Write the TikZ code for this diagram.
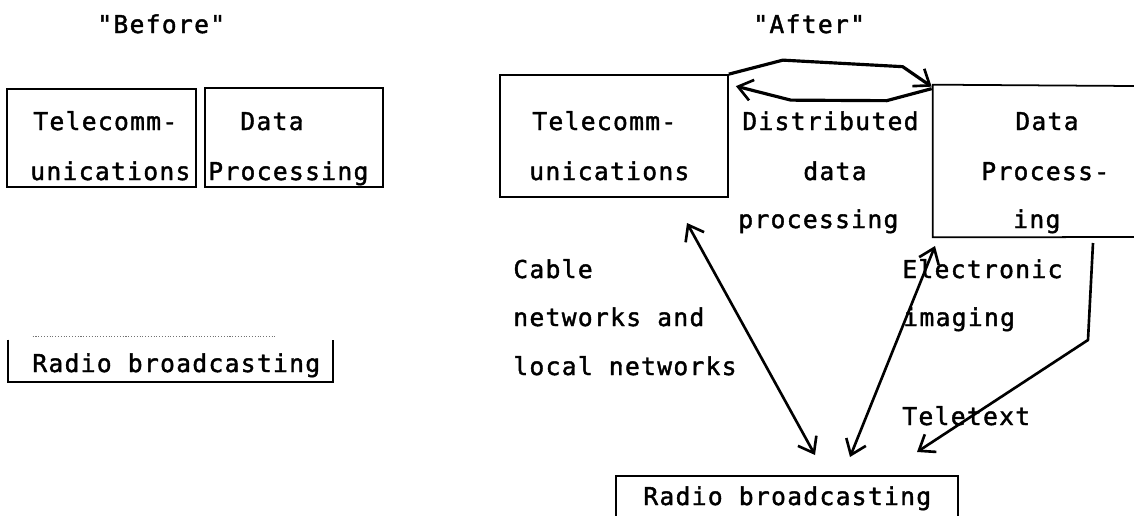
\documentclass[tikz,border=0pt]{standalone}
\usepackage{fontspec}
\newfontfamily\mono[LetterSpace=5.4,FakeBold=1.6]{DejaVu Sans Mono}
\usetikzlibrary{arrows.meta,calc}

\begin{document}
\begin{tikzpicture}[x=0.02cm,y=-0.02cm,
  txt/.style={anchor=base west, inner sep=0pt, font=\mono\fontsize{14}{16}\selectfont},
  box/.style={draw, line width=1pt, inner sep=0pt},
  edge/.style={line width=1pt},
  faint/.style={line width=0.6pt, densely dotted, black!55},
  tip/.tip={Straight Barb[length=8pt,width=12pt,line width=1.5pt]},
  link/.style={line width=1.5pt, line join=round},
  ring/.style={line width=1.8pt, line join=round}]

\useasboundingbox[fill=white] (0,0) rectangle (1134,515);

% ---------- "Before" ----------
\node[txt] (before) at (97,33) {"Before"};

\node[box, minimum width=3.78cm, minimum height=1.96cm] (ltele) at (101.5,138) {};
\node[txt] (ltele1) at (33,130) {Telecomm-};
\node[txt] (ltele2) at (30,180) {unications};

\node[box, minimum width=3.56cm, minimum height=1.98cm] (ldata) at (294,137.5) {};
\node[txt] (ldata1) at (240,130) {Data};
\node[txt] (ldata2) at (208,180) {Processing};

% radio box: solid sides and bottom, faint top
\node[inner sep=0pt, minimum width=6.5cm, minimum height=0.9cm] (lradio) at (170.5,359.5) {};
\draw[edge] ($(lradio.north west)+(0,3)$) -- (lradio.south west) -- (lradio.south east) -- ($(lradio.north east)+(0,3)$);
\draw[faint] ($(lradio.north west)+(25,0)$) -- ($(lradio.north west)+(267,0)$);
\node[txt] (lradio1) at (32,372) {Radio broadcasting};

% ---------- "After" ----------
\node[txt] (after) at (753,33) {"After"};

\node[box, minimum width=4.56cm, minimum height=2.44cm] (rtele) at (614,136) {};
\node[txt] (rtele1) at (532,130) {Telecomm-};
\node[txt] (rtele2) at (529,180) {unications};

% data processing box runs off the right edge
\node[inner sep=0pt, minimum width=4.54cm, minimum height=3.04cm] (rdata) at (1046.5,161) {};
\draw[edge] (1134,86) -- (rdata.north west) -- (rdata.south west) -- (1134,237);
\node[txt] (rdata1) at (1015,130) {Data};
\node[txt] (rdata2) at (981,180) {Process-};
\node[txt] (rdata3) at (1013,228) {ing};

% radio box runs off the bottom edge
\node[inner sep=0pt, minimum width=6.84cm, minimum height=1.2cm] (rradio) at (787,506) {};
\draw[edge] (rradio.south west) -- (rradio.north west) -- (rradio.north east) -- (rradio.south east);
\node[txt] (rradio1) at (643,505) {Radio broadcasting};

% connector labels
\node[txt] (dist1) at (742,130) {Distributed};
\node[txt] (dist2) at (803,180) {data};
\node[txt] (dist3) at (738,228) {processing};

\node[txt] (cab1) at (513,278) {Cable};
\node[txt] (cab2) at (513,326) {networks and};
\node[txt] (cab3) at (513,375) {local networks};

\node[txt] (img1) at (902,278) {Electronic};
\node[txt] (img2) at (903,326) {imaging};
\node[txt] (tele1) at (902,425) {Teletext};

% ---------- connectors ----------
% distributed data processing loop
\draw[ring, -tip] (rtele.north east) -- ($(rtele.north east)+(54,-14)$)
  -- ($(rdata.north west)+(-30,-18)$) -- ($(rdata.north west)+(-1,2)$);
\draw[ring, -tip] ($(rdata.north west)+(-1,4)$) -- ($(rdata.north west)+(-46,16)$)
  -- ($(rtele.north east)+(62,26)$) -- ($(rtele.north east)+(7,12)$);

% cable and local networks
\coordinate (cabA) at (687,223);
\coordinate (cabB) at (815,455);
\draw[link, tip-tip] (cabA) -- (cabB);

% electronic imaging
\coordinate (imgA) at (850,457);
\coordinate (imgB) at (935,246);
\draw[link, tip-tip] (imgA) -- (imgB);

% teletext
\coordinate (ttxA) at (1093,243);
\coordinate (ttxB) at (1088,340);
\coordinate (ttxC) at (917,452);
\draw[link, -tip] (ttxA) -- (ttxB) -- (ttxC);
\end{tikzpicture}
\end{document}
